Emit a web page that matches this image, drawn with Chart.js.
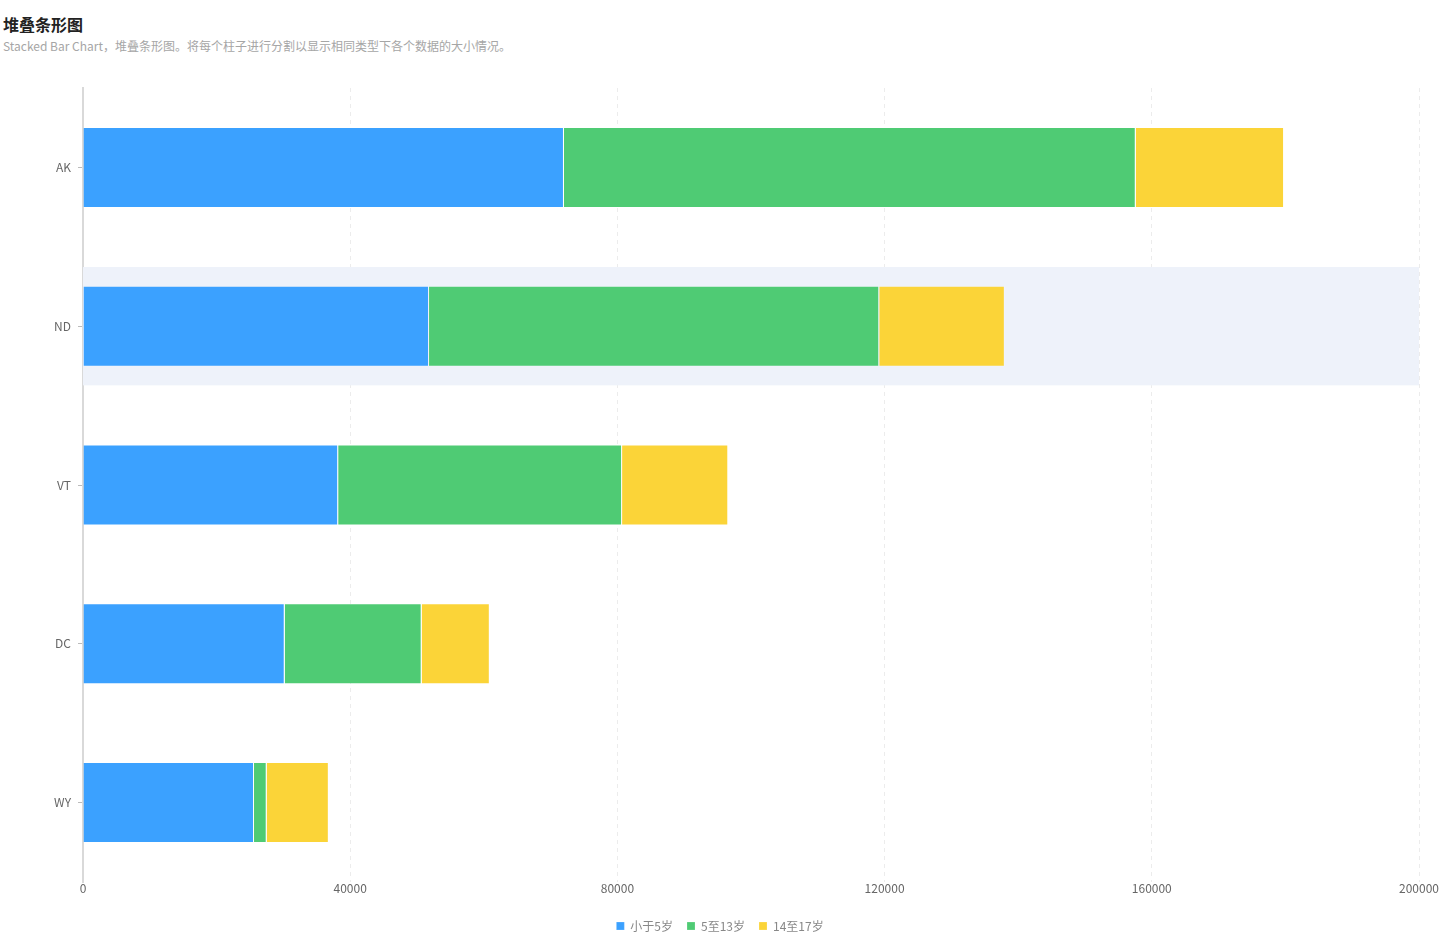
<!DOCTYPE html>
<html>
<head>
<meta charset="utf-8">
<script src="https://cdn.jsdelivr.net/npm/chart.js@4/dist/chart.umd.min.js"></script>
<style>
    html, body { margin: 0; padding: 0; background: #fff; }
    body { width: 1450px; height: 946px; position: relative; overflow: hidden;
           font-family: "Noto Sans CJK SC", "Noto Sans", sans-serif; }
    .title { position: absolute; left: 3px; top: 12px; font-size: 16px; font-weight: bold; color: #222; }
    .subtitle { position: absolute; left: 3px; top: 37px; font-size: 12px; color: #a6a6a6; }
    #chart-wrap { position: absolute; left: 0; top: 0; width: 1450px; height: 946px; }
</style>
</head>
<body>
<div class="title">堆叠条形图</div>
<div class="subtitle">Stacked Bar Chart，堆叠条形图。将每个柱子进行分割以显示相同类型下各个数据的大小情况。</div>
<div id="chart-wrap"><canvas id="chart"></canvas></div>
<script>
// Data
const categories = ['AK', 'ND', 'VT', 'DC', 'WY'];
const under5 = [72000, 51800, 38200, 30200, 25600];
const age5to13 = [85600, 67400, 42500, 20500, 1900];
const age14to17 = [22200, 18800, 15900, 10200, 9300];
const seriesNames = ['小于5岁', '5至13岁', '14至17岁'];
const xTicks = [0, 40000, 80000, 120000, 160000, 200000];
const highlightIndex = 1;

// Colors
const COLORS = ['#3BA1FF', '#4FCB74', '#FBD438'];

// Highlight band behind the active row
const highlightBand = {
    id: 'highlightBand',
    beforeDatasetsDraw(chart) {
        const { ctx, chartArea, scales } = chart;
        const y = scales.y;
        const step = y.getPixelForValue(1) - y.getPixelForValue(0);
        const center = y.getPixelForValue(highlightIndex);
        const h = step * 0.745;
        ctx.save();
        ctx.fillStyle = '#EEF2FA';
        ctx.fillRect(chartArea.left, center - h / 2, chartArea.right - chartArea.left, h);
        ctx.restore();
    }
};

const ctx = document.getElementById('chart').getContext('2d');
const makeSet = (label, data, color) => ({
    label,
    data,
    backgroundColor: color,
    borderColor: 'rgba(255,255,255,0.2)',
    borderWidth: 1,
    barPercentage: 0.51,
    categoryPercentage: 1
});

new Chart(ctx, {
    type: 'bar',
    data: {
        labels: categories,
        datasets: [
            makeSet(seriesNames[0], under5, COLORS[0]),
            makeSet(seriesNames[1], age5to13, COLORS[1]),
            makeSet(seriesNames[2], age14to17, COLORS[2])
        ]
    },
    options: {
        indexAxis: 'y',
        responsive: true,
        maintainAspectRatio: false,
        animation: false,
        font: { family: '"Noto Sans CJK SC", "Noto Sans", sans-serif' },
        // left padding keeps the legend centred on the page
        layout: { padding: { left: 21, right: 31, top: 88, bottom: 4 } },
        plugins: {
            tooltip: { enabled: false },
            legend: {
                position: 'bottom',
                labels: {
                    boxWidth: 8,
                    boxHeight: 8,
                    padding: 14,
                    color: '#888',
                    font: { size: 12, family: '"Noto Sans CJK SC", sans-serif' }
                }
            }
        },
        scales: {
            x: {
                stacked: true,
                min: 0,
                max: 200000,
                afterBuildTicks: (s) => { s.ticks = xTicks.map(v => ({ value: v })); },
                afterFit: (s) => { s.height = 24; },
                ticks: {
                    color: '#666',
                    padding: -1,
                    font: { size: 12 },
                    callback: (v) => v
                },
                grid: {
                    color: '#ececec',
                    lineWidth: 1,
                    drawTicks: false
                },
                border: { display: false, dash: [4, 4] }
            },
            y: {
                stacked: true,
                afterFit: (s) => { s.width = 62; },
                ticks: {
                    color: '#666',
                    padding: 7,
                    font: { size: 12 }
                },
                grid: {
                    offset: false,
                    drawOnChartArea: false,
                    drawTicks: true,
                    tickLength: 5,
                    color: '#bbb'
                },
                border: { display: true, color: '#d9d9d9', width: 2 }
            }
        }
    },
    plugins: [highlightBand]
});
</script>
</body>
</html>
